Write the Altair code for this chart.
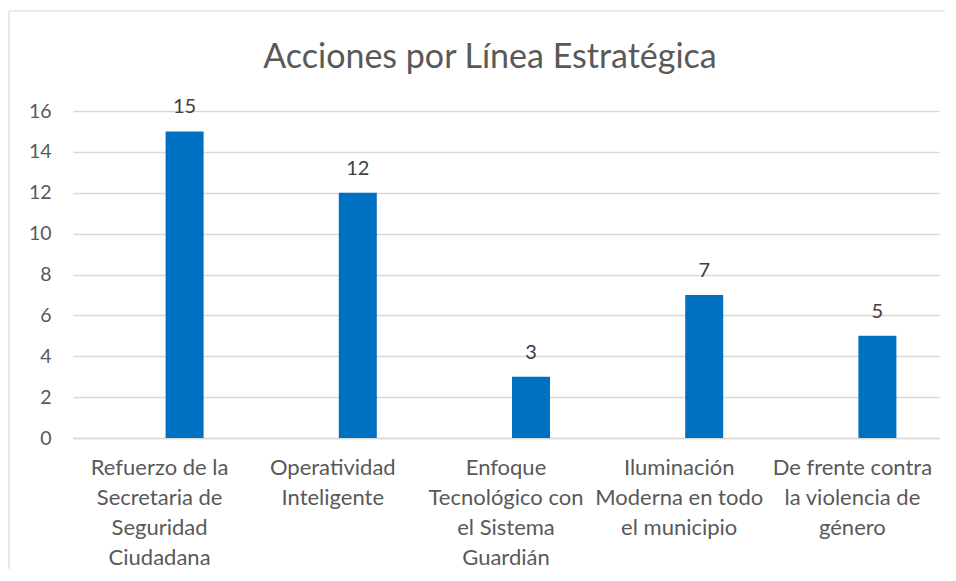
import altair as alt
import pandas as pd

categories = [
    "Refuerzo de la|Secretaria de|Seguridad|Ciudadana",
    "Operatividad|Inteligente",
    "Enfoque|Tecnológico con|el Sistema|Guardián",
    "Iluminación|Moderna en todo|el municipio",
    "De frente contra|la violencia de|género",
]
values = [15, 12, 3, 7, 5]
y_ticks = [0, 2, 4, 6, 8, 10, 12, 14, 16]

df = pd.DataFrame({"cat": categories, "val": values})

FONT = "Lato"
W, H = 866, 327

x_enc = alt.X(
    "cat:N",
    sort=categories,
    scale=alt.Scale(paddingInner=0, paddingOuter=0),
    axis=alt.Axis(
        title=None,
        labelAngle=0,
        labelExpr="split(datum.label, '|')",
        labelFont=FONT,
        labelFontSize=22,
        labelColor="#595959",
        labelLineHeight=30,
        labelPadding=19,
        labelLimit=400,
        ticks=False,
        domainColor="#d9d9d9",
        domainWidth=1.3,
        grid=False,
    ),
)

y_enc = alt.Y(
    "val:Q",
    scale=alt.Scale(domain=[0, 16], nice=False),
    axis=alt.Axis(
        title=None,
        values=y_ticks,
        labelFont=FONT,
        labelFontSize=19.5,
        labelColor="#595959",
        labelPadding=22,
        ticks=False,
        domain=False,
        gridColor="#d9d9d9",
        gridWidth=1.3,
    ),
)

bars = alt.Chart(df).mark_bar(color="#0070C0", width=38, xOffset=25).encode(x=x_enc, y=y_enc)

labels = alt.Chart(df).mark_text(
    font=FONT, fontSize=20, color="#404040", baseline="alphabetic", dy=-18, xOffset=25
).encode(x=alt.X("cat:N", sort=categories), y="val:Q", text="val:Q")

frame_df = pd.DataFrame({"k": [0]})
frame_left = alt.Chart(frame_df).mark_rule(stroke="#d9d9d9", strokeWidth=1.2).encode(
    x=alt.value(-64), y=alt.value(-100), y2=alt.value(H + 250)
)
frame_top = alt.Chart(frame_df).mark_rule(stroke="#d9d9d9", strokeWidth=1.2).encode(
    x=alt.value(-64), x2=alt.value(W + 120), y=alt.value(-100)
)

chart = alt.layer(frame_left, frame_top, bars, labels).properties(
    width=W,
    height=H,
    background="white",
    title=alt.TitleParams(
        "Acciones por Línea Estratégica",
        font=FONT,
        fontSize=34,
        fontWeight="normal",
        color="#595959",
        anchor="middle",
        dx=-16,
        dy=65,
        offset=0,
    ),
    padding={"left": 65, "top": 103, "right": 6, "bottom": 131},
    autosize=alt.AutoSizeParams(type="none"),
).configure_view(stroke=None)

chart.save("out.html", embed_options={"renderer": "svg", "actions": False})
